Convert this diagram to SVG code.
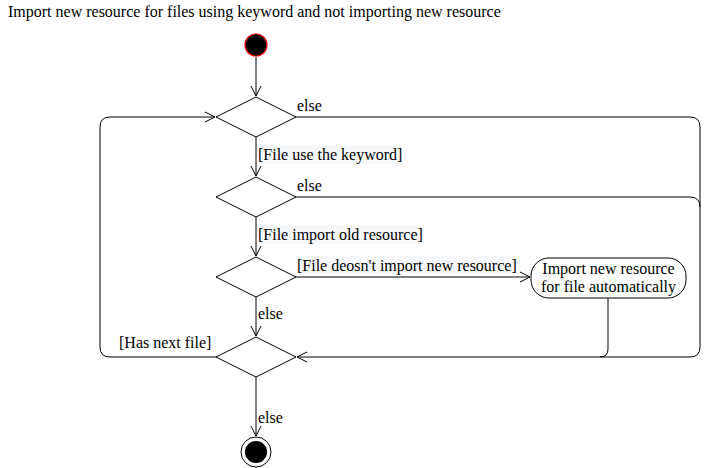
<svg xmlns="http://www.w3.org/2000/svg" width="711" height="468" viewBox="0 0 711 468">
<defs>
<marker id="arr" viewBox="0 0 12 12" refX="11" refY="6" markerWidth="12" markerHeight="12" markerUnits="userSpaceOnUse" orient="auto">
<path d="M1,1 L11,6 L1,11" fill="none" stroke="#000" stroke-width="1"/>
</marker>
<style>
text{font-family:"Liberation Serif","Times New Roman",serif;font-size:16px;fill:#000}
.dia{fill:#fff;stroke:#000;stroke-width:1}
.c{fill:none;stroke:#000;stroke-width:1}
.lb{fill:#f7f8fa}
</style>
</defs>
<rect width="711" height="468" fill="#fff"/>
<text x="8" y="17">Import new resource for files using keyword and not importing new resource</text>
<g id="connectors">
<path class="c" d="M256,57 L256,96" marker-end="url(#arr)"/>
<path class="c" d="M256,137 L256,176" marker-end="url(#arr)"/>
<path class="c" d="M256,217 L256,256" marker-end="url(#arr)"/>
<path class="c" d="M256,297 L256,336" marker-end="url(#arr)"/>
<path class="c" d="M256,377 L256,436" marker-end="url(#arr)"/>
<path class="c" d="M296,277 L530,277" marker-end="url(#arr)"/>
<path class="c" d="M608,298 L608,349 Q608,357 600,357 L297,357" marker-end="url(#arr)"/>
<path class="c" d="M296,117 L690,117 Q700,117 700,127 L700,347 Q700,357 690,357 L600,357"/>
<path class="c" d="M296,197 L690,197 Q700,197 700,207"/>
<path class="c" d="M216,357 L110,357 Q100,357 100,347 L100,127 Q100,117 110,117 L215,117" marker-end="url(#arr)"/>
</g>
<g id="labels">
<text x="297" y="111">else</text>
<rect class="lb" x="257" y="145" width="145" height="19"/>
<text x="258" y="160">[File use the keyword]</text>
<text x="297" y="191">else</text>
<rect class="lb" x="257" y="225" width="166" height="19"/>
<text x="258" y="240">[File import old resource]</text>
<rect class="lb" x="296" y="256" width="220" height="19"/>
<text x="297" y="271">[File deosn't import new resource]</text>
<text x="258" y="319">else</text>
<text x="119" y="348">[Has next file]</text>
<text x="258" y="423">else</text>
</g>
<g id="start"><circle cx="256" cy="45" r="11" fill="#000" stroke="#e00" stroke-width="1.2"/></g>
<g id="d1"><polygon class="dia" points="216,117 256,97 296,117 256,137"/></g>
<g id="d2"><polygon class="dia" points="216,197 256,177 296,197 256,217"/></g>
<g id="d3"><polygon class="dia" points="216,277 256,257 296,277 256,297"/></g>
<g id="d4"><polygon class="dia" points="216,357 256,337 296,357 256,377"/></g>
<g id="action">
<rect x="531" y="258" width="155" height="40" rx="18" ry="18" fill="#fff" stroke="#000"/>
<text x="608.5" y="274" text-anchor="middle">Import new resource</text>
<text x="608.5" y="292" text-anchor="middle">for file automatically</text>
</g>
<g id="end">
<circle cx="256" cy="452" r="15" fill="#fff" stroke="#000"/>
<circle cx="256" cy="452" r="11" fill="#000"/>
</g>
</svg>
